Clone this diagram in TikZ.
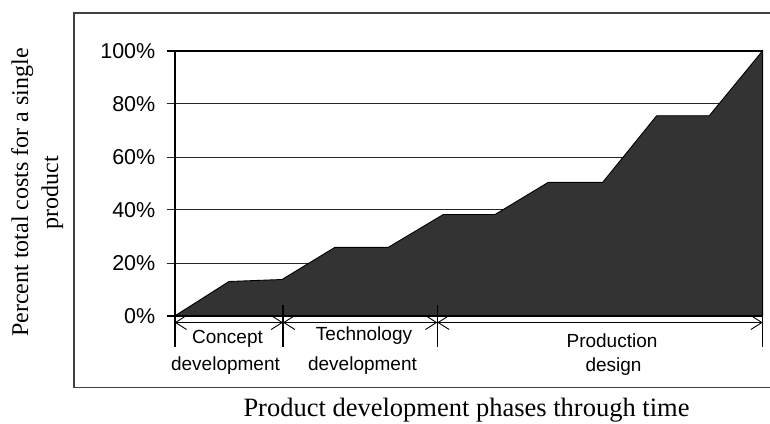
\documentclass[tikz,border=0pt]{standalone}
\usepackage{fontspec}
\setmainfont{Liberation Serif}
\setsansfont{Liberation Sans}
\usetikzlibrary{arrows.meta}
\begin{document}
\begin{tikzpicture}[x=1pt,y=-1pt,
  outerframe/.style={line width=1.1pt, black!75},
  axisline/.style={line width=1.6pt, black},
  gridline/.style={line width=0.9pt, black!85},
  area/.style={fill=black!80, draw=black, line width=0.9pt, line join=miter},
  ticklab/.style={font=\sffamily\fontsize{21.5}{24}\selectfont, anchor=east, inner sep=0pt},
  phaselab/.style={font=\sffamily\fontsize{19}{22}\selectfont, anchor=base, inner sep=0pt},
  phasearrow/.style={line width=0.9pt, {Straight Barb[length=11pt,width=14pt]}-{Straight Barb[length=11pt,width=14pt]}},
  marker/.style={line width=1.1pt},
  ytitle/.style={font=\fontsize{24}{28}\selectfont, rotate=90, anchor=base, inner sep=0pt},
  xtitle/.style={font=\fontsize{26.5}{30}\selectfont, anchor=base, inner sep=0pt}]
\useasboundingbox (0,0) rectangle (770,423);

% outer frame (open on the right)
\coordinate (fr1) at (775,13);
\coordinate (fr2) at (74,13);
\coordinate (fr3) at (74,387.5);
\coordinate (fr4) at (775,387.5);
\draw[outerframe] (fr1) -- (fr2) -- (fr3) -- (fr4);

% grid lines
\foreach \n/\yy in {20/263.4, 40/209.6, 60/157.0, 80/103.6}{
  \coordinate (gl\n) at (166.7,\yy);
  \coordinate (gr\n) at (762.7,\yy);
  \draw[gridline] (gl\n) -- (gr\n);
  \node[ticklab] (t\n) at (155.5,\yy) {\n\%};
}
\node[ticklab] (t0) at (155.5,316) {0\%};
\node[ticklab] (t100) at (155.5,50.7) {100\%};

% cumulative cost area
\coordinate (a0) at (174.7,316);
\coordinate (a1) at (229,281.5);
\coordinate (a2) at (282,279.5);
\coordinate (a3) at (335,247.3);
\coordinate (a4) at (388.3,247.3);
\coordinate (a5) at (443.3,214.5);
\coordinate (a6) at (495,214.5);
\coordinate (a7) at (548.3,182.3);
\coordinate (a8) at (602.7,182.3);
\coordinate (a9) at (656.7,115.7);
\coordinate (a10) at (709.3,115.7);
\coordinate (a11) at (762.7,50.7);
\coordinate (a12) at (762.7,316);
\filldraw[area] (a0) -- (a1) -- (a2) -- (a3) -- (a4) -- (a5) -- (a6) -- (a7) -- (a8) -- (a9) -- (a10) -- (a11) -- (a12) -- cycle;

% plot frame
\coordinate (tl) at (166.7,50.7);
\coordinate (tr) at (762.7,50.7);
\coordinate (bl) at (166.7,316);
\coordinate (br) at (762.7,316);
\coordinate (ax) at (174.7,50.7);
\coordinate (axb) at (174.7,346.7);
\coordinate (rxb) at (762.7,346.7);
\draw[axisline] (tl) -- (tr);
\draw[axisline] (bl) -- (br);
\draw[axisline] (ax) -- (axb);
\draw[marker] (tr) -- (rxb);

% phase markers
\coordinate (m1t) at (283,305);
\coordinate (m1b) at (283,346.7);
\coordinate (m2t) at (437.3,305);
\coordinate (m2b) at (437.3,346.7);
\draw[marker] (m1t) -- (m1b);
\draw[marker] (m2t) -- (m2b);

% phase arrows
\coordinate (p0) at (174.7,322.5);
\coordinate (p1) at (283,322.5);
\coordinate (p2) at (437.3,322.5);
\coordinate (p3) at (762.7,322.5);
\draw[phasearrow] (p0) -- (p1);
\draw[phasearrow] (p1) -- (p2);
\draw[phasearrow] (p2) -- (p3);

% phase labels
\node[phaselab] (c1) at (227.5,343.5) {Concept};
\node[phaselab] (c2) at (225.5,370) {development};
\node[phaselab] (te1) at (364,340.5) {Technology};
\node[phaselab] (te2) at (362.5,370.3) {development};
\node[phaselab] (pr1) at (612,347) {Production};
\node[phaselab] (pr2) at (613.5,371.5) {design};

% axis titles
\node[ytitle] (yt1) at (28,192.5) {Percent total costs for a single};
\node[ytitle] (yt2) at (58,192.5) {product};
\node[xtitle] (xt) at (466.5,416.5) {Product development phases through time};
\end{tikzpicture}
\end{document}
